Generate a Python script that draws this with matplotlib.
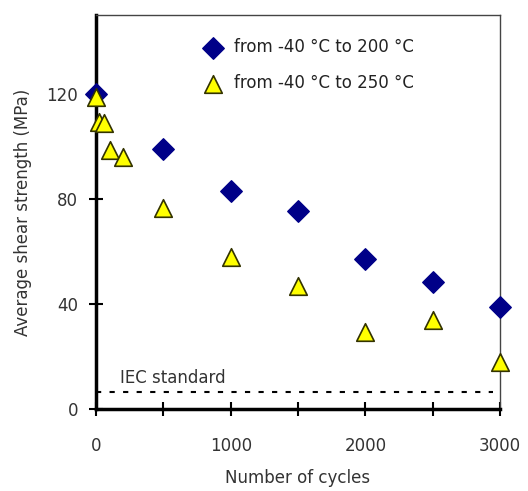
import matplotlib
matplotlib.use('Agg')
import matplotlib.pyplot as plt

# Datos
ciclos_200 = [0, 500, 1000, 1500, 2000, 2500, 3000]
resist_200 = [120, 99, 83, 75.5, 57, 48.5, 39]

ciclos_250 = [0, 20, 55, 100, 200, 500, 1000, 1500, 2000, 2500, 3000]
resist_250 = [119, 109.5, 109, 98.5, 96, 76.5, 58, 47, 29.5, 34, 18]

iec_nivel = 6.5
etiquetas_serie = ['from -40 °C to 200 °C', 'from -40 °C to 250 °C']

plt.rcParams['font.family'] = ['DejaVu Sans']

fig = plt.figure(figsize=(5.28, 4.91), dpi=100)
ax = fig.add_axes([0.182, 0.167, 0.765, 0.802])

ax.scatter(ciclos_200, resist_200, marker='D', s=120, color='#000088',
           edgecolors='#000088', zorder=3, label=etiquetas_serie[0], clip_on=False)
ax.scatter(ciclos_250, resist_250, marker='^', s=160, color='#ffff00',
           edgecolors='#333300', linewidths=1.2, zorder=4, label=etiquetas_serie[1],
           clip_on=False)

# Linea estandar IEC
ax.plot([0, 2950], [iec_nivel, iec_nivel], linestyle=(0, (2.5, 4)),
        color='black', linewidth=1.5, zorder=2)
ax.text(180, iec_nivel + 2, 'IEC standard', fontsize=12, color='#333333',
        ha='left', va='bottom')

ax.set_xlim(0, 3000)
ax.set_ylim(0, 150)
ax.set_xticks([0, 1000, 2000, 3000])
ax.set_xticks([500, 1500, 2500], minor=True)
ax.set_yticks([0, 40, 80, 120])

for lado in ['left', 'bottom']:
    ax.spines[lado].set_linewidth(2.5)
for lado in ['top', 'right']:
    ax.spines[lado].set_linewidth(1)
    ax.spines[lado].set_color('#444444')

ax.tick_params(axis='both', which='both', direction='inout', length=10,
               width=1.5, labelsize=12, labelcolor='#333333', pad=8)
ax.tick_params(axis='x', pad=15)

ax.set_xlabel('Number of cycles', fontsize=12, color='#333333', labelpad=10)
ax.set_ylabel('Average shear strength (MPa)', fontsize=12, color='#333333', labelpad=10)

ax.legend(loc='upper left', bbox_to_anchor=(0.21, 0.98), frameon=False,
          fontsize=12, handletextpad=0.3, labelspacing=1.1,
          scatterpoints=1, labelcolor='#222222')

fig.savefig('out.png', dpi=100)
